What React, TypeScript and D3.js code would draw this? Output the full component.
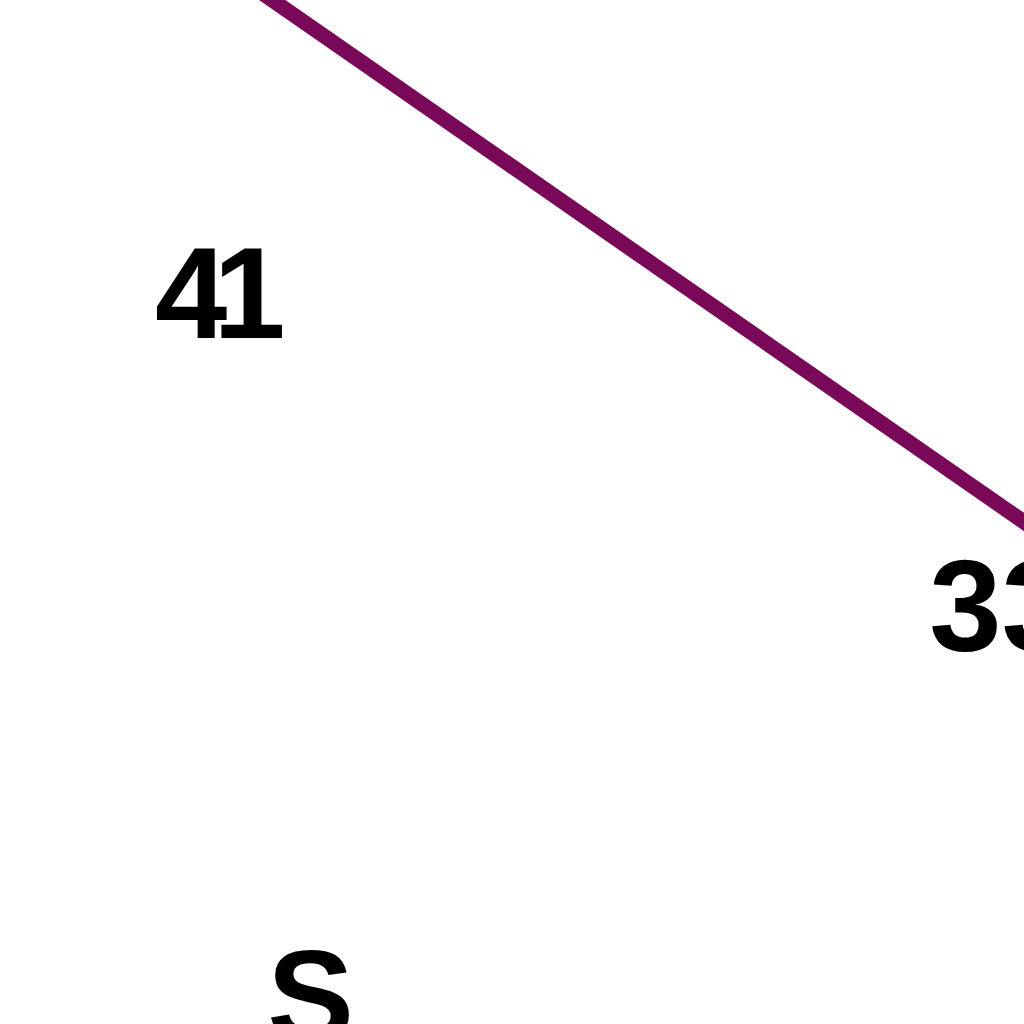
import React from "react";
import * as d3 from "d3";

// Visible series segment (time index, value)
const seriesT = [-1, 11];
const seriesV = [51.7, 31.3];
// Labels visible in the zoomed view
const labelTexts = ["41", "33", "S"];
const labelT = [-1.45, 8.75, 0.03];
const labelV = [38.95, 28.85, 16.25];

const W = 1024;
const H = 1024;

export default function App() {
  const x = d3.scaleLinear().domain([0, 10]).range([265, 1024]);
  const y = d3.scaleLinear().domain([50, 33]).range([-5, 522]);
  const pts = seriesT.map((t, i) => [t, seriesV[i]] as [number, number]);
  const line = d3
    .line<[number, number]>()
    .x((d) => x(d[0]))
    .y((d) => y(d[1]));
  return (
    <svg
      width={W}
      height={H}
      style={{ position: "fixed", left: 0, top: 0, background: "#fff" }}
    >
      <rect width={W} height={H} fill="#fff" />
      <path d={line(pts) || ""} fill="none" stroke="#7a0858" strokeWidth={15} />
      {labelTexts.map((s, i) => (
        <text
          key={i}
          x={x(labelT[i])}
          y={y(labelV[i])}
          fontFamily="Liberation Sans"
          fontWeight="bold"
          fontSize={130}
          letterSpacing={i === 0 ? -14 : 0}
          fill="#000"
        >
          {s}
        </text>
      ))}
    </svg>
  );
}
